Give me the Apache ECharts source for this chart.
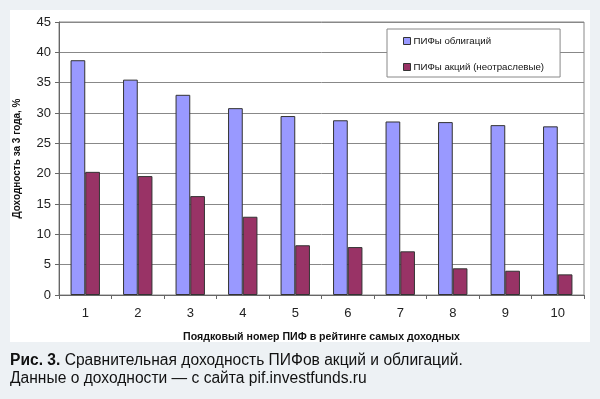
<!DOCTYPE html>
<html>
<head>
<meta charset="utf-8">
<script src="https://cdn.jsdelivr.net/npm/echarts@6/dist/echarts.min.js"></script>
<style>
	html, body { margin: 0; padding: 0; background: #edf1f4; }
	#chart { width: 600px; height: 399px; }
</style>
</head>
<body>
<div id="chart"></div>
<script>
	const categories = ['1', '2', '3', '4', '5', '6', '7', '8', '9', '10'];
	const bondFunds = [38.7, 35.5, 33.0, 30.8, 29.5, 28.8, 28.6, 28.5, 28.0, 27.8];
	const stockFunds = [20.3, 19.6, 16.3, 12.9, 8.2, 7.9, 7.2, 4.4, 4.0, 3.4];

	const chart = echarts.init(document.querySelector('#chart'));
	const font = 'Arial, "Liberation Sans", sans-serif';

	chart.setOption({
		backgroundColor: '#edf1f4',
		animation: false,
		textStyle: { fontFamily: font },
		graphic: [
			{
				type: 'rect',
				z: -10,
				silent: true,
				shape: { x: 10, y: 10, width: 580, height: 332 },
				style: { fill: '#ffffff' }
			},
			{
				type: 'text',
				left: 10,
				top: 352,
				style: {
					text: '{b|Рис. 3.} Сравнительная доходность ПИФов акций и облигаций.\nДанные о доходности — с сайта pif.investfunds.ru',
					font: '15.6px ' + font,
					fill: '#111',
					lineHeight: 18,
					rich: {
						b: { fontWeight: 'bold', fontSize: 15.6, fill: '#111', lineHeight: 18 }
					}
				}
			}
		],
		legend: {
			orient: 'vertical',
			left: 387,
			top: 29,
			padding: [6, 16, 4, 16],
			itemGap: 14,
			itemWidth: 7,
			itemHeight: 7,
			icon: 'rect',
			backgroundColor: '#ffffff',
			borderColor: '#888',
			borderWidth: 1,
			textStyle: { fontSize: 9.7, color: '#111', lineHeight: 12, fontFamily: font, padding: [0, 0, 0, -2] },
			itemStyle: { borderColor: '#333', borderWidth: 1 },
			data: ['ПИФы облигаций', 'ПИФы акций (неотраслевые)']
		},
		grid: {
			left: 59,
			right: 16,
			top: 22,
			bottom: 104,
			show: true,
			borderColor: '#888',
			borderWidth: 1,
			backgroundColor: '#ffffff'
		},
		xAxis: {
			type: 'category',
			data: categories,
			name: 'Поядковый номер ПИФ в рейтинге самых доходных',
			nameLocation: 'middle',
			nameGap: 37,
			nameTextStyle: { fontSize: 10.6, fontWeight: 'bold', color: '#111' },
			axisLine: { lineStyle: { color: '#666' } },
			axisTick: { show: true, length: 4, lineStyle: { color: '#666' } },
			axisLabel: { fontSize: 13, color: '#222', margin: 12 }
		},
		yAxis: {
			type: 'value',
			min: 0,
			max: 45,
			interval: 5,
			name: 'Доходность за 3 года, %',
			nameLocation: 'middle',
			nameGap: 37,
			nameTextStyle: { fontSize: 10, fontWeight: 'bold', color: '#111' },
			axisLine: { show: true, lineStyle: { color: '#666' } },
			axisTick: { show: true, length: 4, lineStyle: { color: '#666' } },
			axisLabel: { fontSize: 13, color: '#222', margin: 8 },
			splitLine: { lineStyle: { color: '#888' } }
		},
		series: [
			{
				name: 'ПИФы облигаций',
				type: 'bar',
				data: bondFunds,
				barGap: '0%',
				barCategoryGap: '44%',
				itemStyle: { color: '#9999ff', borderColor: '#333', borderWidth: 1 }
			},
			{
				name: 'ПИФы акций (неотраслевые)',
				type: 'bar',
				data: stockFunds,
				barGap: '0%',
				barCategoryGap: '44%',
				itemStyle: { color: '#993366', borderColor: '#333', borderWidth: 1 }
			}
		]
	});
</script>
</body>
</html>
